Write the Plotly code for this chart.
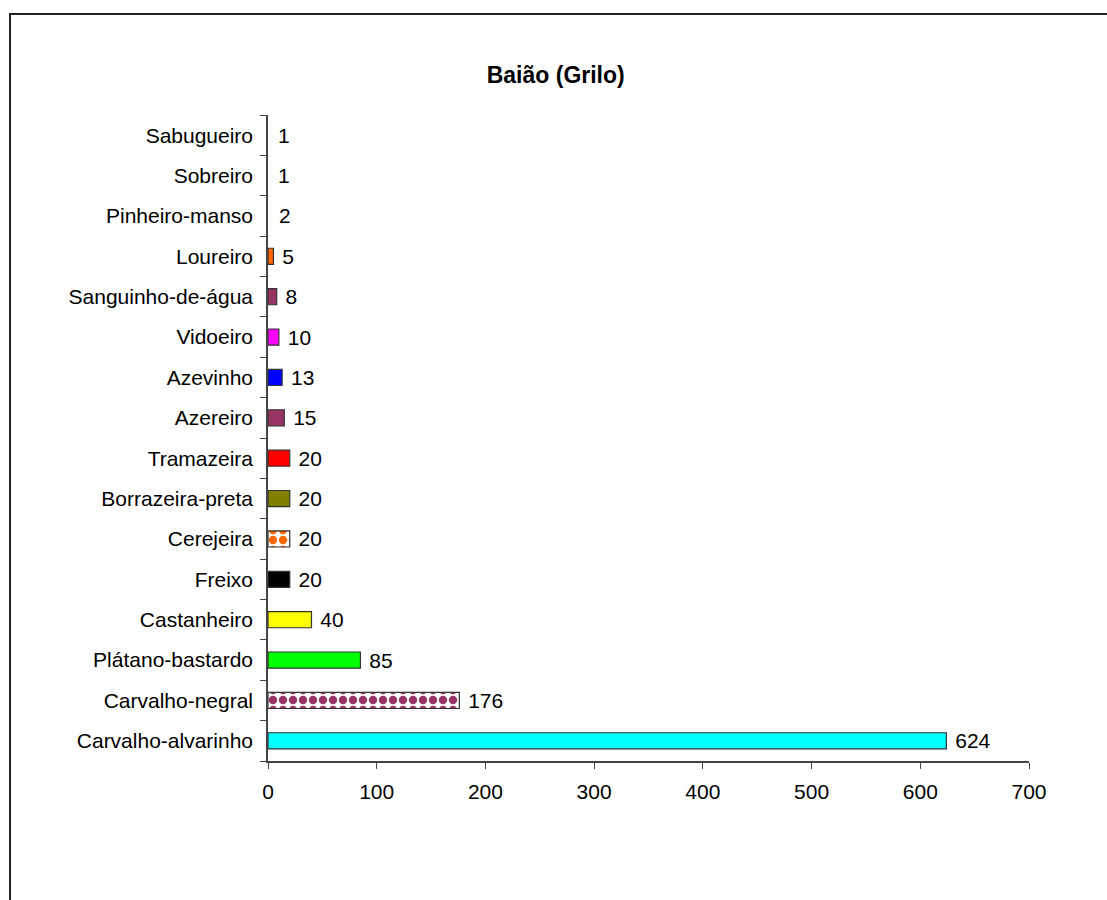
import plotly.graph_objects as go

species = ["Carvalho-alvarinho", "Carvalho-negral", "Plátano-bastardo", "Castanheiro",
           "Freixo", "Cerejeira", "Borrazeira-preta", "Tramazeira", "Azereiro",
           "Azevinho", "Vidoeiro", "Sanguinho-de-água", "Loureiro", "Pinheiro-manso",
           "Sobreiro", "Sabugueiro"]
counts = [624, 176, 85, 40, 20, 20, 20, 20, 15, 13, 10, 8, 5, 2, 1, 1]
colors = ["#00FFFF", "#993366", "#00FF00", "#FFFF00", "#000000", "#FF6600", "#808000",
          "#FF0000", "#993366", "#0000FF", "#FF00FF", "#993366", "#FF6600", "#FFFFFF",
          "#FFFFFF", "#FFFFFF"]
checkered = [False, True, False, False, False, True, False, False, False, False, False,
             False, False, False, False, False]
outline = ["#333333"] * 13 + ["#FFFFFF", "#FFFFFF", "#FFFFFF"]
title_text = "Baião (Grilo)"
x_ticks = [0, 100, 200, 300, 400, 500, 600, 700]

FONT = "Liberation Sans, Arial, sans-serif"
AXIS_COLOR = "#444444"

fig = go.Figure()
for name, val, col, chk, lc in zip(species, counts, colors, checkered, outline):
    if chk:
        marker = dict(color="#FFFFFF", line=dict(color=lc, width=1.2),
                      pattern=dict(shape=".", fgcolor=col, bgcolor="#FFFFFF",
                                   fgopacity=1, fillmode="overlay", size=10,
                                   solidity=0.55))
    else:
        marker = dict(color=col, line=dict(color=lc, width=1.2))
    fig.add_trace(go.Bar(
        y=[name], x=[val], orientation="h", marker=marker,
        text=[val], texttemplate=" %{x}", textposition="outside",
        constraintext="none", cliponaxis=False,
        textfont=dict(family=FONT, size=21, color="#000000"),
        width=0.4, showlegend=False,
    ))

# outer frame (left and top edges)
L, R, T, B = 268, 1029, 115, 761
W, H = R - L, B - T
def px(xp): return (xp - L) / W
def py(yp): return (B - yp) / H

fig.add_shape(type="line", xref="paper", yref="paper",
              x0=px(10), x1=px(10), y0=py(13), y1=py(905),
              line=dict(color="#222222", width=2))
fig.add_shape(type="line", xref="paper", yref="paper",
              x0=px(9), x1=px(1110), y0=py(14), y1=py(14),
              line=dict(color="#222222", width=2))

fig.update_layout(
    width=1107, height=900, barmode="overlay",
    margin=dict(l=L, r=1107 - R, t=T, b=900 - B),
    paper_bgcolor="#FFFFFF", plot_bgcolor="#FFFFFF",
    font=dict(family=FONT, size=21, color="#000000"),
    title=dict(text="<b>" + title_text + "</b>", x=0.502, xanchor="center",
               y=1 - 75 / 900, yanchor="middle",
               font=dict(family=FONT, size=23, color="#000000")),
    xaxis=dict(range=[0, 700], tickvals=x_ticks, showgrid=False, zeroline=False,
               showline=True, linecolor=AXIS_COLOR, linewidth=1.5,
               ticks="outside", ticklen=6, tickcolor=AXIS_COLOR, tickwidth=1,
               ticklabelstandoff=5,
               tickfont=dict(family=FONT, size=21, color="#000000")),
    yaxis=dict(categoryorder="array", categoryarray=species, showgrid=False,
               zeroline=False, showline=True, linecolor=AXIS_COLOR, linewidth=1.5,
               ticks="outside", ticklen=6, tickcolor=AXIS_COLOR, tickwidth=1,
               tickson="boundaries", ticklabelstandoff=9,
               tickfont=dict(family=FONT, size=21, color="#000000")),
)

fig.write_html("out.html")
